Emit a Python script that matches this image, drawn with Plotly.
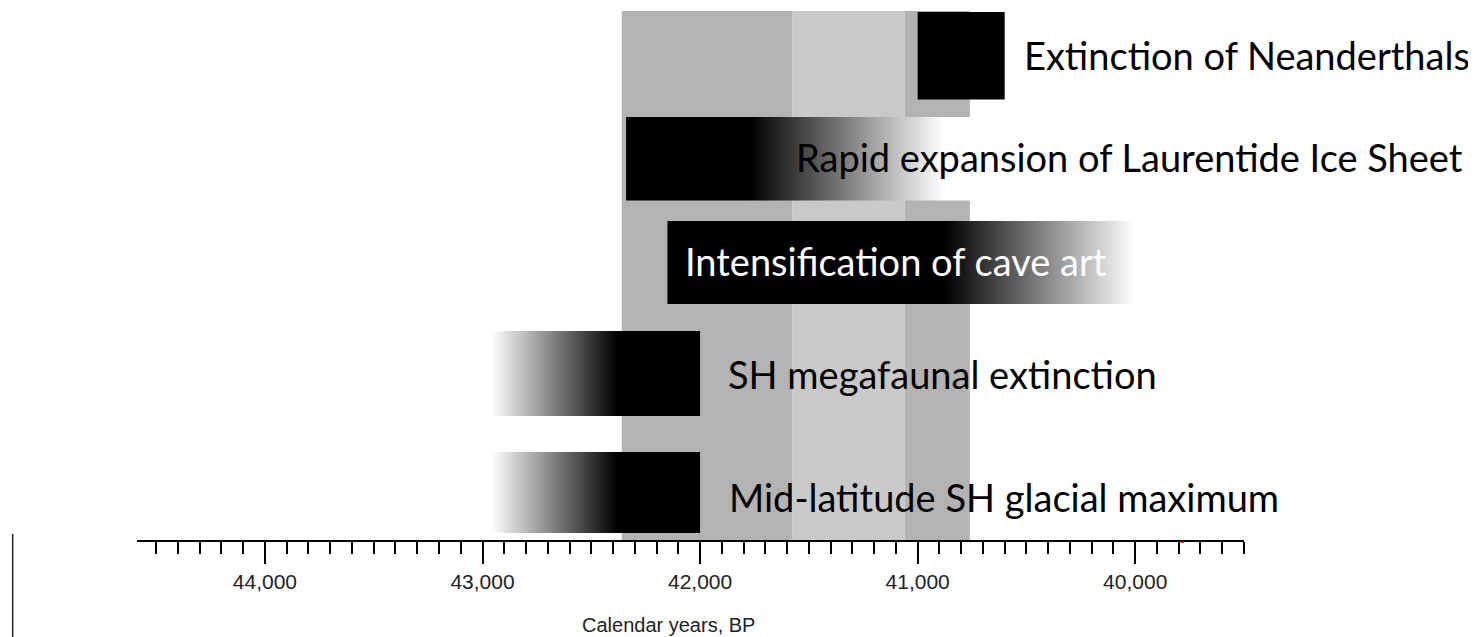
import plotly.graph_objects as go

# ---------------- data (years BP) ----------------
events = [
    "Extinction of Neanderthals",
    "Rapid expansion of Laurentide Ice Sheet",
    "Intensification of cave art",
    "SH megafaunal extinction",
    "Mid-latitude SH glacial maximum",
]
bar_old = [41000, 42340, 42150, 42960, 42960]      # older edge of bar
bar_young = [40600, 40750, 40000, 42000, 42000]    # younger edge of bar
solid_old = [41000, 42340, 42150, 42380, 42380]    # solid black part
solid_young = [40600, 41770, 40875, 42000, 42000]
fade_white = [None, 40880, 40000, 42960, 42960]    # where fade reaches white
label_year = [40519, 41569, 42079, 41879, 41876]   # left edge of label text
label_white = [False, False, True, False, False]

band_old = [42360, 41575, 41060]
band_young = [41575, 41060, 40760]
band_colors = ["#b3b3b3", "#c9c9c9", "#b3b3b3"]

x_range = [44588, 39500]
major_ticks = [44000, 43000, 42000, 41000, 40000]
major_labels = ["44,000", "43,000", "42,000", "41,000", "40,000"]

# ---------------- layout helpers (lane units = page pixels) ----------------
row_top = [12, 117, 221, 331, 452]
row_bot = [99.5, 200.5, 304, 416, 533]
label_y = [55, 157, 261, 374, 497]

fig = go.Figure()

for i, name in enumerate(events):
    xs = [bar_old[i], bar_young[i], bar_young[i], bar_old[i], bar_old[i]]
    ys = [row_top[i], row_top[i], row_bot[i], row_bot[i], row_top[i]]
    tr = dict(x=xs, y=ys, mode="lines", fill="toself", line=dict(width=0),
              hoverinfo="skip", showlegend=False, name=name, fillcolor="black")
    if fade_white[i] is not None:
        if fade_white[i] < solid_young[i]:
            tr["fillgradient"] = dict(type="horizontal",
                                      colorscale=[[0, "black"], [1, "white"]],
                                      start=solid_young[i], stop=fade_white[i])
        else:
            tr["fillgradient"] = dict(type="horizontal",
                                      colorscale=[[0, "white"], [1, "black"]],
                                      start=fade_white[i], stop=solid_old[i])
    fig.add_trace(go.Scatter(**tr))

shapes = []
for bo, by, bc in zip(band_old, band_young, band_colors):
    shapes.append(dict(type="rect", xref="x", yref="y", x0=bo, x1=by, y0=11, y1=540,
                       fillcolor=bc, line=dict(width=0), layer="below"))
# stray vertical line at far left
shapes.append(dict(type="line", xref="paper", yref="paper", x0=-0.1123, x1=-0.1123,
                   y0=0.0113, y1=-0.19, line=dict(color="#222", width=1.5)))
# tiny red mark on axis
shapes.append(dict(type="line", xref="x", yref="paper", x0=39790, x1=39775,
                   y0=-0.004, y1=-0.004, line=dict(color="red", width=1.5)))

annotations = []
for i, name in enumerate(events):
    annotations.append(dict(x=label_year[i], y=label_y[i], xref="x", yref="y",
                            text=name, showarrow=False, xanchor="left", yanchor="middle",
                            font=dict(family="Lato", size=38,
                                      color="white" if label_white[i] else "black")))
annotations.append(dict(x=0.4797, y=-0.16, xref="paper", yref="paper",
                        text="Calendar years, BP", showarrow=False,
                        xanchor="center", yanchor="middle",
                        font=dict(family="Liberation Sans, Arial", size=20, color="#222")))

fig.update_layout(
    width=1468, height=629,
    margin=dict(l=129, r=232, t=0, b=97, autoexpand=False),
    paper_bgcolor="white", plot_bgcolor="white",
    shapes=shapes, annotations=annotations,
    xaxis=dict(range=x_range, showgrid=False, zeroline=False,
               showline=True, linecolor="black", linewidth=2,
               ticks="outside", ticklen=22, tickwidth=2, tickcolor="black",
               tickvals=major_ticks, ticktext=major_labels,
               tickfont=dict(family="Liberation Sans, Arial", size=21, color="#222"),
               minor=dict(ticks="outside", ticklen=12, tickwidth=2, tickcolor="black",
                          dtick=100, tick0=0, showgrid=False),
               fixedrange=True),
    yaxis=dict(range=[540, 8], visible=False, showgrid=False, zeroline=False,
               fixedrange=True),
)

fig.write_html("out.html")
